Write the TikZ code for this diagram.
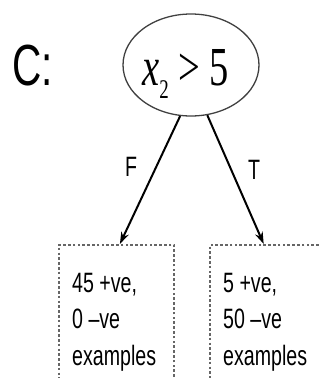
\documentclass[tikz,border=0pt]{standalone}
\usepackage{fontspec}
\setmainfont{Liberation Serif}
\newfontfamily\arialf{Liberation Sans}
\usetikzlibrary{shapes.geometric,arrows.meta,calc}
\tikzset{
  cond/.style={draw=black!75, line width=1.3pt, ellipse, minimum width=136pt, minimum height=102pt, inner sep=0pt},
  leafbox/.style={draw=black!60, line width=1.8pt, dash pattern=on 2.6pt off 2.2pt, rectangle, inner sep=0pt},
  branch/.style={draw=black, line width=2pt, -{Stealth[length=12pt,width=8pt]}},
  lbl/.style={font=\arialf\fontsize{28}{28}\selectfont, inner sep=0pt},
  leaftext/.style={font=\arialf\fontsize{28}{36.5}\selectfont, inner sep=0pt, align=left, anchor=base west},
}
\begin{document}
\begin{tikzpicture}[x=1pt,y=1pt]
\useasboundingbox (0,0) rectangle (320,-378);
\clip (0,0) rectangle (320,-378);
\node[inner sep=0pt, anchor=base west, font=\arialf\fontsize{58}{58}\selectfont] (clabel) at (12,-85) {\scalebox{0.7}[1]{C:}};
\node[cond] (root) at (191,-65) {};
\node[inner sep=0pt, anchor=base west, font=\fontsize{55}{55}\selectfont] (expr) at (142,-85)
  {\scalebox{0.7}[1]{\textit{x}\raisebox{-13pt}{\fontsize{27}{27}\selectfont 2} > 5}};
\node[leafbox, minimum width=115pt, minimum height=180pt, anchor=north west] (lbox) at (58,-244) {};
\node[leafbox, minimum width=130pt, minimum height=180pt, anchor=north west] (rbox) at (209,-244) {};
\coordinate (ltip) at ($(lbox.north west)!0.53!(lbox.north east)$);
\coordinate (rtip) at ($(rbox.north west)!0.415!(rbox.north east)$);
\draw[branch] (root.258) -- (ltip);
\draw[branch] (root.288) -- (rtip);
\node[lbl] (flabel) at (131,-167) {\scalebox{0.7}[1]{F}};
\node[lbl] (tlabel) at (254,-170) {\scalebox{0.7}[1]{T}};
\node[leaftext] (ltext) at (72,-365) {\scalebox{0.7}[1]{45 +ve,}\\\scalebox{0.7}[1]{0 –ve}\\\scalebox{0.7}[1]{examples}};
\node[leaftext] (rtext) at (223,-365) {\scalebox{0.7}[1]{5 +ve,}\\\scalebox{0.7}[1]{50 –ve}\\\scalebox{0.7}[1]{examples}};
\end{tikzpicture}
\end{document}
